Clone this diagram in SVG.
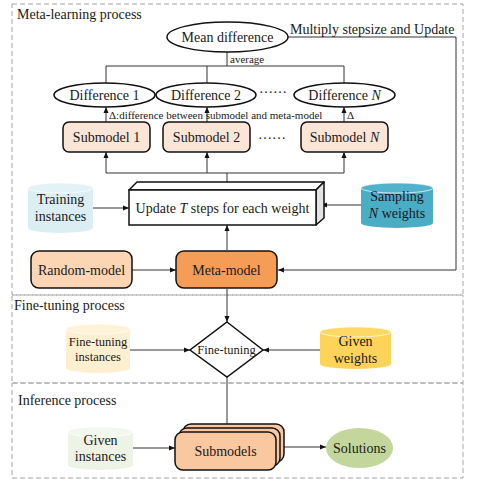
<svg xmlns="http://www.w3.org/2000/svg" width="485" height="480" viewBox="0 0 485 480">
<style>
text{font-family:"Liberation Serif","Times New Roman",serif;fill:#1a1a1a;font-size:14px}
.c{text-anchor:middle}
.sm{font-size:11px}
.ft{font-size:12.5px}
.zone{fill:none;stroke:#a6a6a6;stroke-width:1;stroke-dasharray:5,3}
.box{stroke:#111;stroke-width:1.5}
.ln{fill:none;stroke:#333;stroke-width:1}
.arr{fill:none;stroke:#333;stroke-width:1;marker-end:url(#ah)}
.cyltop{stroke:#fff;stroke-width:1;stroke-opacity:0.7}
</style>
<defs>
<marker id="ah" markerWidth="6" markerHeight="6" refX="6" refY="3" orient="auto" markerUnits="userSpaceOnUse">
<path d="M0,0.5 L6,3 L0,5.5 Z" fill="#111"/>
</marker>
</defs>
<rect width="485" height="480" fill="#fff"/>

<g id="zones">
<rect class="zone" x="12" y="4" width="451" height="291"/>
<rect class="zone" x="12" y="295" width="451" height="88"/>
<rect class="zone" x="12" y="383" width="451" height="95"/>
<text x="17" y="19">Meta-learning process</text>
<text x="14" y="310">Fine-tuning process</text>
<text x="18" y="405">Inference process</text>
</g>

<g id="connectors">
<path class="arr" d="M288,37 H456 V270 H278"/>
<text x="290" y="34">Multiply stepsize and Update</text>
<path class="ln" d="M227,52 V66 M106,85 V66 H344 V85 M207,66 V84"/>
<text class="sm" x="230" y="63">average</text>
<path class="arr" d="M106,122 V107"/>
<path class="arr" d="M207,122 V107"/>
<path class="arr" d="M344,122 V107"/>
<text class="sm" x="109" y="119">Δ:difference between submodel and meta-model</text>
<text class="sm" x="347" y="119">Δ</text>
<path class="ln" d="M106,173 H344 M227,182 V173"/>
<path class="arr" d="M106,173 V152"/>
<path class="arr" d="M207,173 V152"/>
<path class="arr" d="M344,173 V152"/>
<path class="arr" d="M93,208 H129"/>
<path class="arr" d="M361,205 H321"/>
<path class="arr" d="M227,250 V225"/>
<path class="arr" d="M132,270 H176"/>
<path class="arr" d="M227,289 V322"/>
<path class="arr" d="M130,350 H190"/>
<path class="arr" d="M320,350 H263"/>
<path class="arr" d="M227,377 V431"/>
<path class="arr" d="M133,448 H175"/>
<path class="arr" d="M284,447 H326"/>
</g>

<g id="mean-difference">
<ellipse class="box" cx="227.5" cy="37" rx="60.5" ry="15" fill="#fff"/>
<text class="c" x="227.5" y="42">Mean difference</text>
</g>

<g id="difference-1">
<ellipse class="box" cx="104.5" cy="95" rx="50.5" ry="12" fill="#fff"/>
<text class="c" x="104.5" y="100">Difference 1</text>
</g>
<g id="difference-2">
<ellipse class="box" cx="206" cy="95" rx="50" ry="12" fill="#fff"/>
<text class="c" x="206" y="100">Difference 2</text>
</g>
<g id="difference-dots">
<text x="259" y="93">……</text>
</g>
<g id="difference-n">
<ellipse class="box" cx="344.5" cy="95" rx="50.5" ry="12" fill="#fff"/>
<text class="c" x="344.5" y="100">Difference <tspan font-style="italic">N</tspan></text>
</g>

<g id="submodel-1">
<rect class="box" x="63" y="122" width="87" height="30" rx="6" fill="#fbe5d6"/>
<text class="c" x="106.5" y="142">Submodel 1</text>
</g>
<g id="submodel-2">
<rect class="box" x="163" y="122" width="87" height="30" rx="6" fill="#fbe5d6"/>
<text class="c" x="206.5" y="142">Submodel 2</text>
</g>
<g id="submodel-dots">
<text x="258" y="138.5">……</text>
</g>
<g id="submodel-n">
<rect class="box" x="301" y="122" width="87" height="30" rx="6" fill="#fbe5d6"/>
<text class="c" x="344.5" y="142">Submodel <tspan font-style="italic">N</tspan></text>
</g>

<g id="update-box">
<polygon class="box" points="129,190 137,182 324,182 316,190" fill="#fff" stroke-linejoin="round"/>
<polygon class="box" points="316,190 324,182 324,218 316,225" fill="#e3e3e3" stroke-linejoin="round"/>
<rect class="box" x="129" y="190" width="187" height="35" fill="#fff"/>
<text class="c" x="222.5" y="213">Update <tspan font-style="italic">T</tspan> steps for each weight</text>
</g>

<g id="training-instances">
<path d="M28,188 V228 A32.5,5 0 0 0 93,228 V188 A32.5,5 0 0 0 28,188 Z" fill="#dbeef4"/>
<ellipse class="cyltop" cx="60.5" cy="188" rx="32.5" ry="5" fill="#e3f2f7"/>
<text class="c" x="60.5" y="204">Training</text>
<text class="c" x="60.5" y="221">instances</text>
</g>

<g id="sampling-weights">
<path d="M361,188 V223 A36,5 0 0 0 433,223 V188 A36,5 0 0 0 361,188 Z" fill="#4bacc6"/>
<ellipse class="cyltop" cx="397" cy="188" rx="36" ry="5" fill="#52b2cb"/>
<text class="c" x="397" y="201">Sampling</text>
<text class="c" x="397" y="218"><tspan font-style="italic">N</tspan> weights</text>
</g>

<g id="random-model">
<rect class="box" x="31" y="251" width="101" height="37" rx="8" fill="#fcd5b4"/>
<text class="c" x="81.5" y="275">Random-model</text>
</g>

<g id="meta-model">
<rect class="box" x="176" y="251" width="101" height="37" rx="8" fill="#f59d56"/>
<text class="c" x="226.5" y="275">Meta-model</text>
</g>

<g id="fine-tuning-instances">
<path d="M66,329 V368 A32,5 0 0 0 130,368 V329 A32,5 0 0 0 66,329 Z" fill="#fdefcf"/>
<ellipse class="cyltop" cx="98" cy="329" rx="32" ry="5" fill="#fef3d8"/>
<text class="c ft" x="98" y="346">Fine-tuning</text>
<text class="c ft" x="98" y="361">instances</text>
</g>

<g id="fine-tuning">
<polygon class="box" points="227,322 263,350 227,377 190,350" fill="#fff" stroke-linejoin="miter"/>
<text class="c ft" x="226.5" y="354">Fine-tuning</text>
</g>

<g id="given-weights">
<path d="M320,332 V364 A35.5,5 0 0 0 391,364 V332 A35.5,5 0 0 0 320,332 Z" fill="#fed35a"/>
<ellipse class="cyltop" cx="355.5" cy="332" rx="35.5" ry="5" fill="#fed865"/>
<text class="c" x="355.5" y="346">Given</text>
<text class="c" x="355.5" y="363">weights</text>
</g>

<g id="given-instances">
<path d="M68,432 V465 A32.5,5 0 0 0 133,465 V432 A32.5,5 0 0 0 68,432 Z" fill="#eef4e5"/>
<ellipse class="cyltop" cx="100.5" cy="432" rx="32.5" ry="5" fill="#f3f8ec"/>
<text class="c" x="100.5" y="445">Given</text>
<text class="c" x="100.5" y="461">instances</text>
</g>

<g id="submodels">
<rect class="box" x="183" y="424" width="101" height="38" rx="8" fill="#f9c7a0"/>
<rect class="box" x="179" y="428" width="101" height="38" rx="8" fill="#f9c7a0"/>
<rect class="box" x="175" y="432" width="101" height="38" rx="8" fill="#f9c7a0"/>
<text class="c" x="225.5" y="456">Submodels</text>
</g>

<g id="solutions">
<ellipse cx="359.5" cy="448" rx="33.5" ry="20" fill="#c3d69b"/>
<text class="c" x="359.5" y="453">Solutions</text>
</g>
</svg>
